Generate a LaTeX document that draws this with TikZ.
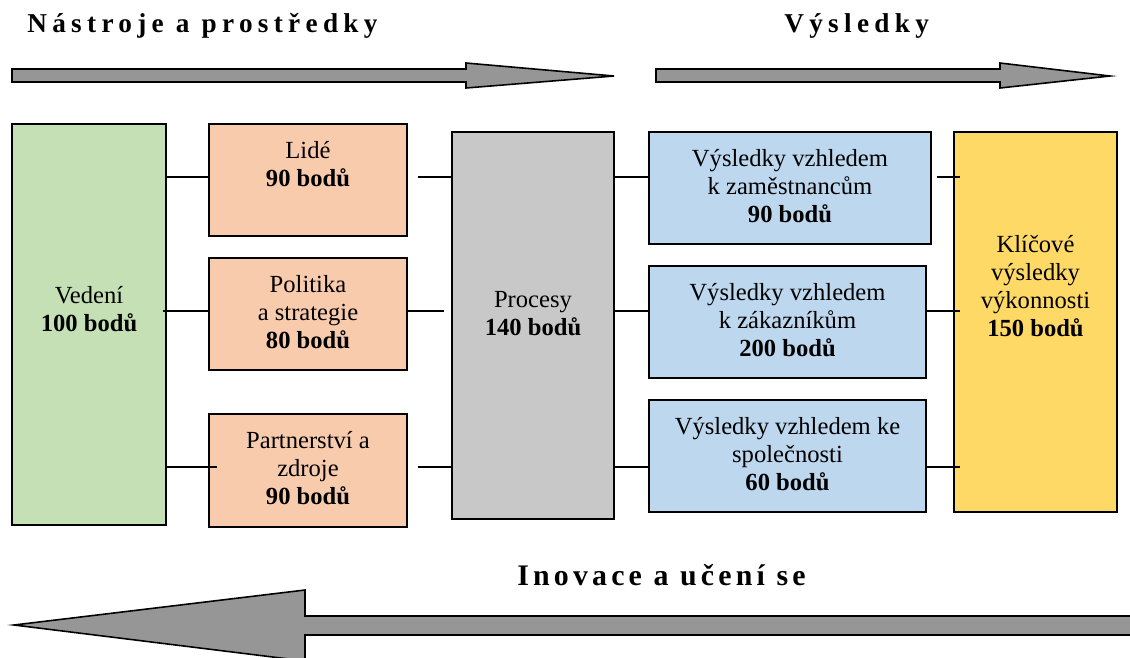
\documentclass[tikz,border=0pt]{standalone}
\usepackage{fontspec}
\setmainfont{Liberation Serif}
\newfontfamily\headfont[LetterSpace=19.5]{Liberation Serif}
\newfontfamily\loopfont[LetterSpace=14]{Liberation Serif}
\definecolor{leadgreen}{RGB}{197,224,180}
\definecolor{toolsalmon}{RGB}{248,203,173}
\definecolor{procgray}{RGB}{200,200,200}
\definecolor{resblue}{RGB}{189,215,238}
\definecolor{keyyellow}{RGB}{255,217,102}
\definecolor{arrowgray}{RGB}{150,150,150}
\begin{document}
\begin{tikzpicture}[x=0.02cm,y=-0.02cm,
  box/.style={draw,line width=0.9pt,inner sep=0pt},
  txt/.style={align=center,inner sep=0pt,font=\fontsize{14}{16}\selectfont},
  conn/.style={draw,line width=0.9pt},
  bigarrow/.style={draw,line width=0.9pt,fill=arrowgray,line join=miter}
  ]
  \useasboundingbox (0,0) rectangle (1130,657);
  \clip (0,0) rectangle (1130,657);

  % headings and block arrows
  \node[anchor=base west,inner sep=0pt,font=\headfont\bfseries\fontsize{15.5}{17}\selectfont] (tools_h) at (27,32) {Nástroje a prostředky};
  \node[anchor=base west,inner sep=0pt,font=\headfont\bfseries\fontsize{15.5}{17}\selectfont] (res_h) at (784,32) {Výsledky};
  \node[anchor=base west,inner sep=0pt,font=\loopfont\bfseries\fontsize{17}{19}\selectfont] (loop_h) at (517,585) {Inovace a učení se};
  \path[bigarrow] (12,69) -- (466,69) -- (466,63) -- (614,76) -- (466,88) -- (466,82) -- (12,82) -- cycle;
  \path[bigarrow] (656,69) -- (1000,69) -- (1000,63) -- (1110,76) -- (1000,88) -- (1000,82) -- (656,82) -- cycle;
  \path[bigarrow] (1140,616) -- (305,616) -- (305,590) -- (14,625) -- (305,661) -- (305,635) -- (1140,635) -- cycle;

  % boxes
  \node[box,fill=leadgreen,minimum width=3.08cm,minimum height=8.02cm] (vedeni) at (89,324.5) {};
  \node[box,fill=toolsalmon,minimum width=3.96cm,minimum height=2.24cm] (lide) at (308,180) {};
  \node[box,fill=toolsalmon,minimum width=3.96cm,minimum height=2.24cm] (politika) at (308,314) {};
  \node[box,fill=toolsalmon,minimum width=3.96cm,minimum height=2.26cm] (partner) at (308,470.5) {};
  \node[box,fill=procgray,minimum width=3.24cm,minimum height=7.74cm] (procesy) at (533,325.5) {};
  \node[box,fill=resblue,minimum width=5.64cm,minimum height=2.24cm] (res_zam) at (790,188) {};
  \node[box,fill=resblue,minimum width=5.54cm,minimum height=2.24cm] (res_zak) at (787.5,322) {};
  \node[box,fill=resblue,minimum width=5.54cm,minimum height=2.24cm] (res_spol) at (787.5,456) {};
  \node[box,fill=keyyellow,minimum width=3.26cm,minimum height=7.6cm] (klic) at (1035.5,322) {};

  % texts
  \node[txt] (vedeni_t) at (89,309) {Vedení\\\textbf{100 bodů}};
  \node[txt] (lide_t) at (308,164) {Lidé\\\textbf{90 bodů}};
  \node[txt] (politika_t) at (308,312) {Politika\\a strategie\\\textbf{80 bodů}};
  \node[txt] (partner_t) at (308,468) {Partnerství a\\zdroje\\\textbf{90 bodů}};
  \node[txt] (procesy_t) at (533,314) {Procesy\\\textbf{140 bodů}};
  \node[txt] (res_zam_t) at (790,186) {Výsledky vzhledem\\k zaměstnancům\\\textbf{90 bodů}};
  \node[txt] (res_zak_t) at (787.5,320) {Výsledky vzhledem\\k zákazníkům\\\textbf{200 bodů}};
  \node[txt] (res_spol_t) at (787.5,454) {Výsledky vzhledem ke\\společnosti\\\textbf{60 bodů}};
  \node[txt] (klic_t) at (1035.5,286) {Klíčové\\výsledky\\výkonnosti\\\textbf{150 bodů}};

  % connectors
  \coordinate (row1) at (0,177);
  \coordinate (row2) at (0,311);
  \coordinate (row3) at (0,467);
  \draw[conn] (vedeni.east |- row1) -- (lide.west |- row1);
  \draw[conn,shorten <=-0.08cm] (vedeni.east |- row2) -- (politika.west |- row2);
  \draw[conn,shorten >=-0.18cm] (vedeni.east |- row3) -- (partner.west |- row3);
  \draw[conn,shorten <=0.2cm] (lide.east |- row1) -- (procesy.west |- row1);
  \draw[conn,shorten >=0.14cm] (politika.east |- row2) -- (procesy.west |- row2);
  \draw[conn,shorten <=0.2cm] (partner.east |- row3) -- (procesy.west |- row3);
  \foreach \r/\b in {row1/res_zam,row2/res_zak,row3/res_spol}
    \draw[conn] (procesy.east |- \r) -- (\b.west |- \r);
  \draw[conn,shorten <=0.1cm,shorten >=-0.14cm] (res_zam.east |- row1) -- (klic.west |- row1);
  \draw[conn,shorten >=-0.14cm] (res_zak.east |- row2) -- (klic.west |- row2);
  \draw[conn,shorten >=-0.14cm] (res_spol.east |- row3) -- (klic.west |- row3);
\end{tikzpicture}
\end{document}
